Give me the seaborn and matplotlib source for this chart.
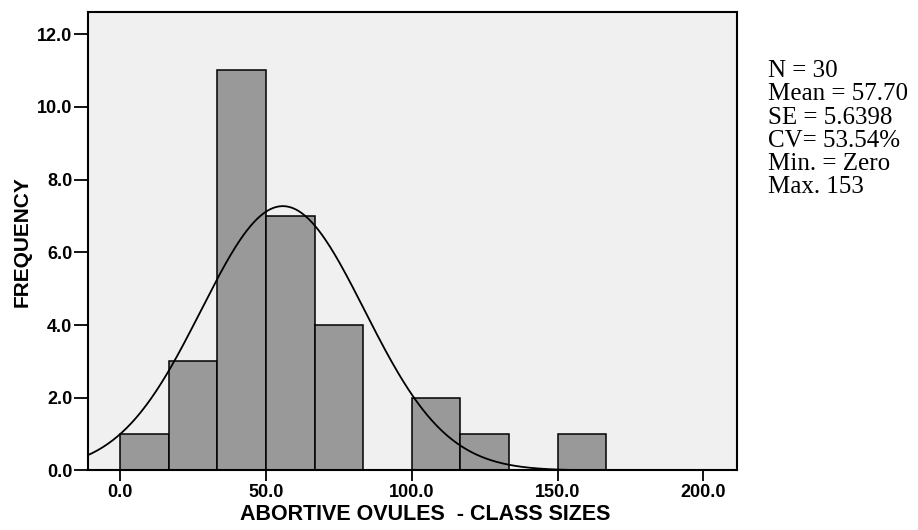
import numpy as np
import pandas as pd
import matplotlib
matplotlib.use("Agg")
import matplotlib.pyplot as plt
import seaborn as sns

# ---- data ----
bin_width = 50 / 3
bin_starts = [0.0, 16.67, 33.33, 50.0, 66.67, 83.33, 100.0, 116.67, 133.33, 150.0]
counts = [1, 3, 11, 7, 4, 0, 2, 1, 0, 1]
curve_mean = 55.8
curve_sd = 28.0
curve_peak = 7.27
x_ticks = [0.0, 50.0, 100.0, 150.0, 200.0]
y_ticks = [0.0, 2.0, 4.0, 6.0, 8.0, 10.0, 12.0]
stats_lines = ["N = 30", "Mean = 57.70", "SE = 5.6398", "CV= 53.54%", "Min. = Zero", "Max. 153"]
x_label = "ABORTIVE OVULES  - CLASS SIZES"
y_label = "FREQUENCY"

sns.set_theme(style="white")
plt.rcParams['font.family'] = ['Liberation Sans', 'DejaVu Sans']

fig = plt.figure(figsize=(9.18, 5.30), dpi=100)
ax = fig.add_axes([0.0955, 0.1123, 0.707, 0.8645])
ax.set_facecolor("#f0f0f0")

centers = [s + bin_width / 2 for s in bin_starts]
edges = list(bin_starts) + [bin_starts[-1] + bin_width]
df = pd.DataFrame({"x": centers, "w": counts})
sns.histplot(data=df, x="x", weights="w", bins=edges, ax=ax,
             color="#999999", alpha=1.0, edgecolor="black", linewidth=1.1)

xs = np.linspace(-11.1, 211.4, 400)
ys = curve_peak * np.exp(-(xs - curve_mean) ** 2 / (2 * curve_sd ** 2))
sns.lineplot(x=xs, y=ys, ax=ax, color="black", linewidth=1.3)

ax.set_xlim(-11.1, 211.4)
ax.set_ylim(0, 12.6)
ax.set_xticks(x_ticks)
ax.set_xticklabels([f"{v:.1f}" for v in x_ticks], fontweight="bold", fontsize=13)
ax.set_yticks(y_ticks)
ax.set_yticklabels([f"{v:.1f}" for v in y_ticks], fontweight="bold", fontsize=13)
ax.tick_params(axis="x", direction="out", length=8, width=1.3, color="black",
               bottom=True, pad=2, labelcolor="black")
ax.tick_params(axis="y", direction="out", length=10, width=1.3, color="black",
               left=True, pad=1, labelcolor="black")
for sp in ax.spines.values():
    sp.set_visible(True)
    sp.set_color("black")
    sp.set_linewidth(1.5)

ax.set_xlabel(x_label, fontweight="bold", fontsize=15.5, color="black", labelpad=2)
ax.xaxis.label.set_x(0.52)
ax.set_ylabel(y_label, fontweight="bold", fontsize=15, color="black", labelpad=4)

baselines = [77, 100.5, 123.5, 147, 170, 193]
for line, b in zip(stats_lines, baselines):
    fig.text(768 / 918, 1 - b / 530, line, family=['Liberation Serif', 'DejaVu Serif'],
             fontsize=18, va="baseline", ha="left", color="black")

fig.savefig("out.png", dpi=100)
